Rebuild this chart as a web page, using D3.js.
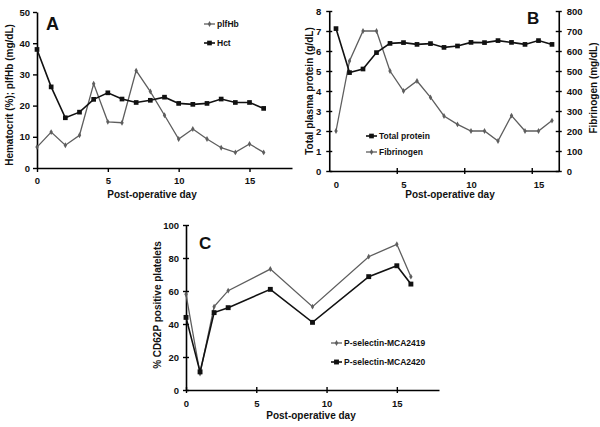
<!DOCTYPE html>
<html>
<head>
<meta charset="utf-8">
<script src="https://cdnjs.cloudflare.com/ajax/libs/d3/7.8.5/d3.min.js"></script>
<style>
  body { margin: 0; background: #fff; }
  svg { font-family: "Liberation Sans", Arial, sans-serif; font-weight: bold; }
</style>
</head>
<body>
<script>
// data
const days = d3.range(0, 17);
const plfHb = [6.7, 11.5, 7.3, 10.5, 27, 14.8, 14.5, 31.2, 24.5, 16.9, 9.3, 12.5, 9.3, 6.5, 5, 7.7, 5];
const hct = [38, 26, 16.1, 17.9, 22, 24.1, 22.1, 21, 21.7, 22.7, 20.7, 20.4, 20.7, 22.1, 21, 21, 19.1];

const totalProtein = [7.12, 4.92, 5.1, 5.92, 6.38, 6.42, 6.33, 6.37, 6.18, 6.25, 6.43, 6.42, 6.52, 6.43, 6.33, 6.52, 6.33];
const fibrinogen = [200, 550, 700, 700, 500, 400, 450, 368, 275, 233, 200, 200, 150, 277, 200, 200, 252];

const daysC = [0, 1, 2, 3, 6, 9, 13, 15, 16];
const mca2419 = [58, 10, 50.5, 60.2, 73.3, 50.5, 80.8, 88.3, 68.7];
const mca2420 = [44, 11, 46.9, 49.9, 61, 41, 68.7, 75.3, 64.2];

const dayTicks = [0, 5, 10, 15];

const GRAY = '#5e5e5e', BLACK = '#111';

let svg = d3.select(document.body).append('svg')
  .attr('width', 600).attr('height', 427);

function styleAxis(g, cross) {
  g.select('.domain').attr('stroke', '#000').attr('stroke-width', 1.6);
  g.selectAll('.tick line').attr('stroke', '#000').attr('stroke-width', 1.4);
  g.selectAll('text').attr('font-size', 9.5).attr('fill', '#111')
    .attr('font-family', '"Liberation Sans", Arial, sans-serif').attr('font-weight', 'bold');
}

function drawSeries(g, x, y, xs, ys, color, shape, size, lw) {
  let pts = xs.map((d, i) => [x(d), y(ys[i])]);
  g.append('path')
    .attr('d', d3.line()(pts))
    .attr('fill', 'none').attr('stroke', color).attr('stroke-width', lw);
  g.selectAll(null).data(pts).enter().append('path')
    .attr('transform', d => `translate(${d[0]},${d[1]})`)
    .attr('d', d3.symbol().type(shape).size(size))
    .attr('fill', color);
}

function legendItem(g, x0, y0, label, color, shape, size, lw) {
  g.append('line').attr('x1', x0).attr('x2', x0 + 11).attr('y1', y0).attr('y2', y0)
    .attr('stroke', color).attr('stroke-width', lw);
  g.append('path').attr('transform', `translate(${x0 + 5.5},${y0})`)
    .attr('d', d3.symbol().type(shape).size(size)).attr('fill', color);
  g.append('text').attr('x', x0 + 13).attr('y', y0 + 3.2)
    .attr('font-size', 8.5).attr('fill', '#111').text(label);
}

function label(txt, x, y, size, rot) {
  let t = svg.append('text').attr('font-size', size).attr('fill', '#111')
    .attr('text-anchor', 'middle').text(txt);
  if (rot) t.attr('transform', `translate(${x},${y}) rotate(${rot})`);
  else t.attr('x', x).attr('y', y);
  return t;
}

// ---------- Panel A ----------
{
  let x = d3.scaleLinear().domain([0, 18]).range([37, 292]);
  let y = d3.scaleLinear().domain([0, 50]).range([168, 12]);
  let g = svg.append('g');

  let ax = g.append('g').attr('transform', 'translate(0,168)')
    .call(d3.axisBottom(x).tickValues(dayTicks).tickSize(4).tickSizeOuter(0).tickPadding(5));
  styleAxis(ax);
  let ay = g.append('g').attr('transform', 'translate(37,0)')
    .call(d3.axisLeft(y).ticks(5).tickSize(4).tickSizeOuter(0).tickPadding(3));
  styleAxis(ay);

  drawSeries(g, x, y, days, plfHb, GRAY, d3.symbolDiamond, 10, 1.3);
  drawSeries(g, x, y, days, hct, BLACK, d3.symbolSquare, 22, 1.6);

  legendItem(g, 204, 24, 'plfHb', GRAY, d3.symbolDiamond, 10, 1.3);
  legendItem(g, 204, 43, 'Hct', BLACK, d3.symbolSquare, 22, 1.6);

  svg.append('text').attr('x', 46).attr('y', 30).attr('font-size', 18).attr('fill', '#111').text('A');
  label('Post-operative day', 152, 198, 10);
  label('Hematocrit (%); plfHb (mg/dL)', 13, 95, 10, -90);
}

// ---------- Panel B ----------
{
  let x = d3.scaleLinear().domain([-0.5, 16.5]).range([329.25, 558.75]);
  let y = d3.scaleLinear().domain([0, 8]).range([171, 11]);
  let y2 = d3.scaleLinear().domain([0, 800]).range([171, 11]);
  let g = svg.append('g');

  // category axis: ticks between categories, labels on categories
  let axt = g.append('g').attr('transform', 'translate(0,171)')
    .call(d3.axisBottom(x).tickValues([4.5, 9.5, 14.5]).tickFormat('').tickSize(3).tickSizeOuter(0));
  styleAxis(axt);
  axt.selectAll('.tick line').attr('y1', -3);
  let axl = g.append('g').attr('transform', 'translate(0,171)')
    .call(d3.axisBottom(x).tickValues(dayTicks).tickSize(0).tickPadding(10));
  styleAxis(axl);
  axl.select('.domain').remove();

  let ay = g.append('g').attr('transform', 'translate(329.25,0)')
    .call(d3.axisLeft(y).ticks(8).tickSize(3).tickSizeOuter(0).tickPadding(5));
  styleAxis(ay);
  ay.selectAll('.tick line').attr('x1', 3);
  let ay2 = g.append('g').attr('transform', 'translate(558.75,0)')
    .call(d3.axisRight(y2).ticks(8).tickSize(3).tickSizeOuter(0).tickPadding(5));
  styleAxis(ay2);
  ay2.selectAll('.tick line').attr('x1', -3);

  drawSeries(g, x, y2, days, fibrinogen, GRAY, d3.symbolDiamond, 10, 1.3);
  drawSeries(g, x, y, days, totalProtein, BLACK, d3.symbolSquare, 22, 1.6);

  legendItem(g, 366, 136, 'Total protein', BLACK, d3.symbolSquare, 22, 1.6);
  legendItem(g, 366, 152, 'Fibrinogen', GRAY, d3.symbolDiamond, 10, 1.3);

  svg.append('text').attr('x', 527).attr('y', 24).attr('font-size', 17).attr('fill', '#111').text('B');
  label('Post-operative day', 450, 198, 10);
  label('Total plasma protein (g/dL)', 313, 91, 10, -90);
  label('Fibrinogen (mg/dL)', 597, 88, 10, -90);
}

// ---------- Panel C ----------
{
  let x = d3.scaleLinear().domain([0, 18]).range([186, 439]);
  let y = d3.scaleLinear().domain([0, 100]).range([390, 225]);
  let g = svg.append('g');

  let ax = g.append('g').attr('transform', 'translate(0,390)')
    .call(d3.axisBottom(x).tickValues(dayTicks).tickSize(3).tickSizeOuter(0).tickPadding(7));
  styleAxis(ax);
  ax.selectAll('.tick line').attr('y1', -3);
  let ay = g.append('g').attr('transform', 'translate(186,0)')
    .call(d3.axisLeft(y).ticks(5).tickSize(3).tickSizeOuter(0).tickPadding(4));
  styleAxis(ay);
  ay.selectAll('.tick line').attr('x1', 3);

  drawSeries(g, x, y, daysC, mca2419, GRAY, d3.symbolDiamond, 10, 1.3);
  drawSeries(g, x, y, daysC, mca2420, BLACK, d3.symbolSquare, 24, 1.6);

  legendItem(g, 331, 343, 'P-selectin-MCA2419', GRAY, d3.symbolDiamond, 10, 1.3);
  legendItem(g, 331, 362, 'P-selectin-MCA2420', BLACK, d3.symbolSquare, 24, 1.6);

  svg.append('text').attr('x', 199).attr('y', 249).attr('font-size', 17).attr('fill', '#111').text('C');
  label('Post-operative day', 311, 419, 10);
  label('% CD62P positive platelets', 161, 305, 10, -90);
}
</script>
</body>
</html>
